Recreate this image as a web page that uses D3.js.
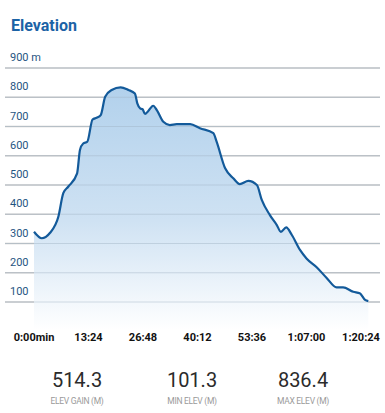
<!DOCTYPE html>
<html>
<head>
<meta charset="utf-8">
<script src="https://cdn.jsdelivr.net/npm/d3@7"></script>
<style>
  body { margin: 0; background: #fff; }
  svg { display: block; font-family: Roboto, "Noto Sans", sans-serif; }
</style>
</head>
<body>
<div id="chart"></div>
<script>
// elevation profile, minutes vs metres
const minutes = [0, 1.9, 3.9, 6.0, 7.2, 8.4, 10.6, 11.3, 12.1, 13.1, 14.4, 15.4, 16.4, 17.5, 19.1, 21.3,
  23.2, 24.8, 25.4, 26.1, 26.7, 27.3, 28.1, 29.3, 30.2, 31.8, 33.4, 35.1, 37.5, 38.4, 40.8, 44.1,
  44.9, 47.0, 49.0, 50.6, 52.7, 54.8, 56.0, 58.0, 59.7, 60.7, 62.0, 63.4, 65.4, 67.0, 69.5, 71.9,
  74.4, 76.0, 78.5, 80.1, 81.4, 82.2];
const elevation = [340, 318, 336, 392, 472, 494, 540, 620, 642, 648, 724, 730, 739, 802, 825, 834,
  825, 813, 779, 762, 759, 743, 753, 771, 756, 716, 705, 708, 708, 708, 694, 677,
  648, 557, 523, 503, 514, 500, 449, 397, 363, 340, 355, 329, 278, 249, 219, 183,
  150, 150, 135, 130, 107, 103];

const yTicks = [100, 200, 300, 400, 500, 600, 700, 800, 900];
const xTicks = [0, 804, 1608, 2412, 3216, 4020, 4824]; // seconds
const xTickLabels = ['0:00min', '13:24', '26:48', '40:12', '53:36', '1:07:00', '1:20:24'];

const statValues = ['514.3', '101.3', '836.4'];
const statLabels = ['ELEV GAIN (M)', 'MIN ELEV (M)', 'MAX ELEV (M)'];

const data = minutes.map((m, i) => ({ t: m * 60, elev: elevation[i] }));

const width = 385;
const height = 413;

const svg = d3.select('#chart')
  .append('svg')
  .attr('width', width)
  .attr('height', height);

const xScale = d3.scaleLinear().domain([0, 4824]).range([34, 361]);
const yScale = d3.scaleLinear().domain([100, 900]).range([302, 68]);

// title
svg.append('text')
  .attr('x', 11)
  .attr('y', 31)
  .attr('fill', '#1c63a6')
  .attr('font-size', 16)
  .attr('font-weight', 700)
  .text('Elevation');

// gradient for the area
const defs = svg.append('defs');
const grad = defs.append('linearGradient')
  .attr('id', 'fillGrad')
  .attr('gradientUnits', 'userSpaceOnUse')
  .attr('x1', 0).attr('y1', yScale(836)).attr('x2', 0).attr('y2', 330);
grad.append('stop').attr('offset', 0).attr('stop-color', '#b2d1ec');
grad.append('stop').attr('offset', 0.55).attr('stop-color', '#cfe2f3');
grad.append('stop').attr('offset', 1).attr('stop-color', '#ffffff');

// gridlines
svg.append('g')
  .attr('class', 'gridlines')
  .selectAll('line')
  .data(yTicks)
  .join('line')
  .attr('x1', 5)
  .attr('x2', 380)
  .attr('y1', (d) => yScale(d))
  .attr('y2', (d) => yScale(d))
  .attr('stroke', '#c9c9c9')
  .attr('stroke-width', 1.5);

// area + line
const area = d3.area()
  .x((d) => xScale(d.t))
  .y0(330)
  .y1((d) => yScale(d.elev))
  .curve(d3.curveMonotoneX);

const line = d3.line()
  .x((d) => xScale(d.t))
  .y((d) => yScale(d.elev))
  .curve(d3.curveMonotoneX);

svg.append('path')
  .datum(data)
  .attr('d', area)
  .attr('fill', 'url(#fillGrad)');

// gridlines show through the fill
svg.append('g')
  .selectAll('line')
  .data(yTicks)
  .join('line')
  .attr('x1', 5)
  .attr('x2', 380)
  .attr('y1', (d) => yScale(d))
  .attr('y2', (d) => yScale(d))
  .attr('stroke', '#9fb3c4')
  .attr('stroke-opacity', 0.45)
  .attr('stroke-width', 1.2);

svg.append('path')
  .datum(data)
  .attr('d', line)
  .attr('fill', 'none')
  .attr('stroke', '#135a9a')
  .attr('stroke-width', 2.2)
  .attr('stroke-linejoin', 'round');

// y labels above gridlines
svg.append('g')
  .selectAll('text')
  .data(yTicks)
  .join('text')
  .attr('x', 10)
  .attr('y', (d) => yScale(d) - 7)
  .attr('fill', '#1f5582')
  .attr('font-size', 11)
  .text((d) => d === 900 ? '900 m' : d);

// x labels
svg.append('g')
  .selectAll('text')
  .data(xTicks)
  .join('text')
  .attr('x', (d) => xScale(d))
  .attr('y', 341)
  .attr('text-anchor', 'middle')
  .attr('fill', '#111')
  .attr('font-size', 11)
  .attr('font-weight', 700)
  .text((d, i) => xTickLabels[i]);

// stats
const statX = [77, 192, 303];
const stats = svg.append('g')
  .selectAll('g')
  .data(statValues)
  .join('g')
  .attr('transform', (d, i) => `translate(${statX[i]}, 0)`);

stats.append('text')
  .attr('y', 387)
  .attr('text-anchor', 'middle')
  .attr('fill', '#2b2b2b')
  .attr('font-size', 20)
  .text((d) => d);

stats.append('text')
  .attr('y', 404)
  .attr('text-anchor', 'middle')
  .attr('fill', '#9a9a9a')
  .attr('font-size', 8.5)
  .attr('letter-spacing', -0.3)
  .text((d, i) => statLabels[i]);
</script>
</body>
</html>
